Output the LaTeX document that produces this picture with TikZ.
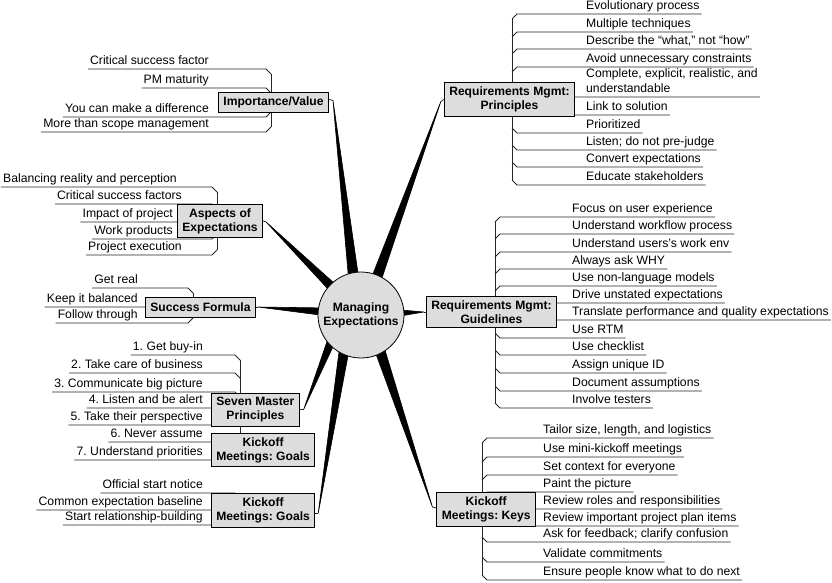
\documentclass[tikz,border=0pt]{standalone}
\usepackage{fontspec}
\setmainfont{Liberation Sans}
\usetikzlibrary{calc}
\frenchspacing

\definecolor{topicgray}{RGB}{221,221,221}

\tikzset{
  topic/.style={draw=black, line width=0.8pt, fill=topicgray, align=center,
    inner xsep=5pt, inner ysep=4pt, minimum height=20pt,
    font=\fontsize{12.1}{14}\selectfont\bfseries},
  hub/.style={circle, draw=black, line width=0.8pt, fill=topicgray, align=center,
    inner sep=0pt, minimum size=86pt, font=\fontsize{12.1}{14}\selectfont\bfseries},
  leftitem/.style={anchor=south east, align=right, inner xsep=2pt, inner ysep=1pt,
    text depth=3pt, font=\fontsize{12.2}{15}\selectfont},
  rightitem/.style={anchor=south west, align=left, inner xsep=2pt, inner ysep=1pt,
    text depth=3pt, font=\fontsize{12.2}{15}\selectfont},
  branch/.style={draw=black!85, line width=0.8pt},
  spoke/.style={fill=black, draw=black, line width=0.6pt, line join=round}
}

\begin{document}
\begin{tikzpicture}[x=1pt, y=-1pt]

    % --- Canvas (pixel grid, y pointing down) ---
    \useasboundingbox (0,0) rectangle (832,582);

    % --- Hub centre ---
    \coordinate (hubc) at (361,315);

    % --- Importance/Value items ---
    % Underlines bend into a spine at x=272
    \foreach \y/\txt [count=\i] in {69/{Critical success factor}, 88/{PM maturity},
        117/{You can make a difference}, 132/{More than scope management}}{
      \pgfmathsetmacro\dd{\y<102 ? 5 : -5}
      \node[leftitem] (iv\i) at (211,\y) {\txt};
      \draw[branch] (iv\i.south west) -- (266,\y) -- (271,\y+\dd);
    }
    \draw[branch] (271,74) -- (271,127);

    % --- Aspects of Expectations items ---
    \foreach \y/\tx/\txt [count=\i] in {187/179/{Balancing reality and perception},
        204/184/{Critical success factors}, 222/175/{Impact of project},
        239/175/{Work products}, 255/184/{Project execution}}{
      \pgfmathsetmacro\dd{\y<221 ? 5 : -5}
      \node[leftitem] (as\i) at (\tx,\y) {\txt};
      \draw[branch] (as\i.south west) -- (212,\y) -- (217,\y+\dd);
    }
    \draw[branch] (217,192) -- (217,250);

    % --- Success Formula items ---
    \foreach \y/\txt [count=\i] in {288/{Get real}, 307/{Keep it balanced},
        323/{Follow through}}{
      \pgfmathsetmacro\dd{\y<300 ? 5 : -5}
      \node[leftitem] (sf\i) at (140,\y) {\txt};
      \draw[branch] (sf\i.south west) -- (188,\y) -- (193,\y+\dd);
    }
    \draw[branch] (193,293) -- (193,318);

    % --- Seven Master Principles items ---
    \foreach \y/\txt [count=\i] in {355/{1. Get buy-in}, 373/{2. Take care of business},
        392/{3. Communicate big picture}, 408/{4. Listen and be alert},
        425/{5. Take their perspective}, 442/{6. Never assume},
        460/{7. Understand priorities}}{
      \pgfmathsetmacro\dd{\y<410 ? 5 : -5}
      \node[leftitem] (sm\i) at (205,\y) {\txt};
      \draw[branch] (sm\i.south west) -- (235,\y) -- (240,\y+\dd);
    }
    \draw[branch] (240,360) -- (240,455);

    % --- Kickoff Meetings: Goals items ---
    \foreach \y/\txt [count=\i] in {493/{Official start notice},
        510/{Common expectation baseline}, 525/{Start relationship-building}}{
      \pgfmathsetmacro\dd{\y<510 ? 5 : -5}
      \node[leftitem] (ko\i) at (205,\y) {\txt};
      \draw[branch] (ko\i.south west) -- (235,\y) -- (240,\y+\dd);
    }
    \draw[branch] (240,498) -- (240,520);

    % --- Requirements Mgmt: Principles items ---
    % Spine at x=512, text starts at x=586
    \foreach \y/\txt [count=\i] in {14/{Evolutionary process}, 32/{Multiple techniques},
        49/{Describe the “what,” not “how”}, 67/{Avoid unnecessary constraints},
        97/{Complete, explicit, realistic, and\\understandable}, 115/{Link to solution},
        133/{Prioritized}, 150/{Listen; do not pre-judge},
        167/{Convert expectations}, 185/{Educate stakeholders}}{
      \pgfmathsetmacro\dd{\y<99 ? 5 : -5}
      \node[rightitem] (rp\i) at (584,\y) {\txt};
      \draw[branch] (512,\y+\dd) -- (517,\y) -- (rp\i.south east);
    }
    \draw[branch] (512,19) -- (512,180);

    % --- Requirements Mgmt: Guidelines items ---
    \foreach \y/\txt [count=\i] in {217/{Focus on user experience},
        234/{Understand workflow process}, 252/{Understand users’s work env},
        269/{Always ask WHY}, 286/{Use non-language models},
        303/{Drive unstated expectations},
        320/{Translate performance and quality expectations},
        338/{Use RTM}, 355/{Use checklist}, 373/{Assign unique ID},
        391/{Document assumptions}, 408/{Involve testers}}{
      \pgfmathsetmacro\dd{\y<312 ? 5 : -5}
      \node[rightitem] (rg\i) at (570,\y) {\txt};
      \draw[branch] (495,\y+\dd) -- (500,\y) -- (rg\i.south east);
    }
    \draw[branch] (495,222) -- (495,403);

    % --- Kickoff Meetings: Keys items ---
    \foreach \y/\txt [count=\i] in {438/{Tailor size, length, and logistics},
        457/{Use mini-kickoff meetings}, 475/{Set context for everyone},
        492/{Paint the picture}, 509/{Review roles and responsibilities},
        526/{Review important project plan items},
        542/{Ask for feedback; clarify confusion},
        562/{Validate commitments}, 580/{Ensure people know what to do next}}{
      \pgfmathsetmacro\dd{\y<509 ? 5 : -5}
      \node[rightitem] (kk\i) at (541,\y) {\txt};
      \draw[branch] (482,\y+\dd) -- (487,\y) -- (kk\i.south east);
    }
    \draw[branch] (482,443) -- (482,575);

    % --- Topic boxes (drawn over the spines) ---
    \node[topic, anchor=west] (iv) at (218,102) {Importance/Value};
    \node[topic, anchor=west] (as) at (177,221) {Aspects of\\Expectations};
    \node[topic, anchor=west] (sf) at (145,307) {Success Formula};
    \node[topic, anchor=west] (sm) at (211,410) {Seven Master\\Principles};
    \node[topic, anchor=west] (kg) at (211,450) {Kickoff\\Meetings: Goals};
    \node[topic, anchor=west] (ko) at (211,510.5) {Kickoff\\Meetings: Goals};
    \node[topic, anchor=east] (rp) at (575,99.5) {Requirements Mgmt:\\Principles};
    \node[topic, anchor=east] (rg) at (557,312) {Requirements Mgmt:\\Guidelines};
    \node[topic, anchor=east] (kk) at (536,509.5) {Kickoff\\Meetings: Keys};

    % --- Spokes: short stub, then a wedge widening into the hub ---
    \draw[branch] ([yshift=2.5pt]iv.east) -- ++(4,1) coordinate (ivt);
    \filldraw[spoke] (ivt) -- ($(hubc)+(252:41)$) -- ($(hubc)+(266:41)$) -- cycle;

    \draw[branch] (rp.west) -- ++(-3,2) coordinate (rpt);
    \filldraw[spoke] (rpt) -- ($(hubc)+(-74:41)$) -- ($(hubc)+(-60:41)$) -- cycle;

    \draw[branch] (as.east) -- ++(3,1) coordinate (ast);
    \filldraw[spoke] (ast) -- ($(hubc)+(-142:41)$) -- ($(hubc)+(-130:41)$) -- cycle;

    \draw[branch] (sf.east) -- ++(2,0) coordinate (sft);
    \filldraw[spoke] (sft) -- ($(hubc)+(180:41)$) -- ($(hubc)+(190:41)$) -- cycle;

    \draw[branch] (rg.west) -- ++(-2,0) coordinate (rgt);
    \filldraw[spoke] (rgt) -- ($(hubc)+(-7:41)$) -- ($(hubc)+(1:41)$) -- cycle;

    \draw[branch] ([yshift=1pt]sm.east) -- ++(4,0) coordinate (smt);
    \filldraw[spoke] (smt) -- ($(hubc)+(132:41)$) -- ($(hubc)+(144:41)$) -- cycle;

    \draw[branch] ([yshift=-2.5pt]ko.east) -- ++(3,0) coordinate (kot);
    \filldraw[spoke] (kot) -- ($(hubc)+(108:41)$) -- ($(hubc)+(122:41)$) -- cycle;

    \draw[branch] ([yshift=1.5pt]kk.west) -- ++(-4,-1) coordinate (kkt);
    \filldraw[spoke] (kkt) -- ($(hubc)+(55:41)$) -- ($(hubc)+(69:41)$) -- cycle;

    % --- Hub ---
    \node[hub] (hub) at (hubc) {Managing\\Expectations};

\end{tikzpicture}
\end{document}
